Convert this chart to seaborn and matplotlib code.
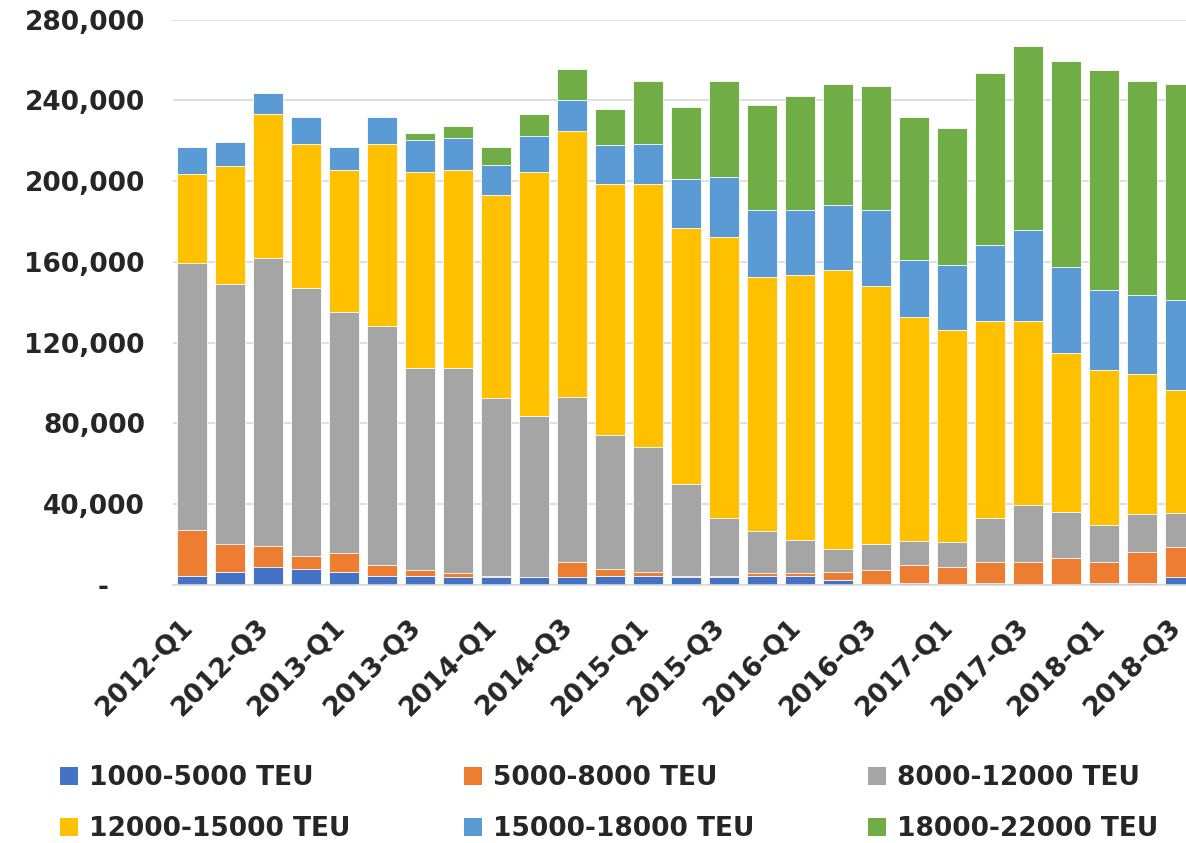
import matplotlib
matplotlib.use("Agg")
import matplotlib.pyplot as plt
import matplotlib.transforms as mtransforms
from matplotlib.patches import Patch
from matplotlib.ticker import FuncFormatter, MultipleLocator
import seaborn as sns
import numpy as np

quarters = [
    "2012-Q1", "2012-Q2", "2012-Q3", "2012-Q4",
    "2013-Q1", "2013-Q2", "2013-Q3", "2013-Q4",
    "2014-Q1", "2014-Q2", "2014-Q3", "2014-Q4",
    "2015-Q1", "2015-Q2", "2015-Q3", "2015-Q4",
    "2016-Q1", "2016-Q2", "2016-Q3", "2016-Q4",
    "2017-Q1", "2017-Q2", "2017-Q3", "2017-Q4",
    "2018-Q1", "2018-Q2", "2018-Q3",
]

# TEU by ship size class (thousands)
teu_1000_5000 = [4.7, 6.2, 9.1, 8.0, 6.2, 4.7, 4.7, 3.8, 3.8, 3.8, 3.8, 4.7, 4.7, 3.8,
                 3.8, 4.7, 4.7, 2.3, 0.5, 1.0, 0.3, 1.0, 0.3, 0.3, 1.0, 1.0, 3.8]
teu_5000_8000 = [22.4, 14.2, 10.2, 6.2, 9.7, 5.1, 2.5, 1.9, 0.9, 0.4, 7.6, 3.4, 1.5, 0.9,
                 0.9, 1.0, 1.0, 3.9, 6.7, 8.8, 8.8, 10.5, 11.2, 13.0, 10.5, 15.1, 14.8]
teu_8000_12000 = [132.3, 128.6, 142.6, 132.9, 119.1, 118.4, 100.1, 101.6, 87.7, 79.7, 81.9,
                  66.1, 61.9, 45.1, 28.6, 20.8, 16.4, 11.4, 13.1, 12.2, 12.1, 21.8, 27.9,
                  22.7, 18.2, 18.9, 17.2]
teu_12000_15000 = [44.3, 58.3, 71.3, 71.4, 70.6, 90.3, 97.3, 98.3, 100.9, 120.7, 131.4,
                   124.4, 130.5, 127.0, 139.2, 125.9, 131.2, 138.4, 127.9, 110.5, 105.3,
                   97.3, 91.2, 78.9, 76.7, 69.7, 60.9]
teu_15000_18000 = [13.2, 12.1, 10.6, 13.0, 11.1, 13.0, 15.7, 15.5, 14.7, 17.5, 15.3, 19.1,
                   20.0, 24.4, 29.3, 33.1, 32.2, 32.2, 37.3, 28.4, 31.9, 37.5, 45.4, 42.8,
                   39.9, 39.0, 44.3]
teu_18000_22000 = [0, 0, 0, 0, 0, 0, 3.3, 6.1, 8.9, 11.1, 15.7, 18.2, 31.1, 35.6, 47.9,
                   52.1, 56.4, 59.8, 61.5, 70.6, 67.8, 85.2, 91.1, 101.6, 108.7, 106.0, 107.0]

series_names = ["1000-5000 TEU", "5000-8000 TEU", "8000-12000 TEU",
                "12000-15000 TEU", "15000-18000 TEU", "18000-22000 TEU"]
series_values = [teu_1000_5000, teu_5000_8000, teu_8000_12000,
                 teu_12000_15000, teu_15000_18000, teu_18000_22000]
colors = ["#4472C4", "#ED7D31", "#A5A5A5", "#FFC000", "#5B9BD5", "#70AD47"]

sns.set_style("white")
plt.rcParams["font.family"] = ["DejaVu Sans"]
plt.rcParams["font.weight"] = "bold"
fs = 19

fig = plt.figure(figsize=(11.86, 8.43), dpi=100)
W, H = 1186, 843
ax = fig.add_axes([172.7 / W, (H - 585) / H, (1199 - 172.7) / W, (585 - 19.5) / H])

# cumulative tops, drawn tallest first so each layer covers the one above it
tops = np.cumsum(np.array(series_values) * 1000, axis=0)
for i in reversed(range(len(series_names))):
    sns.barplot(x=quarters, y=tops[i], order=quarters, color=colors[i], saturation=1,
                width=0.78, edgecolor="white", linewidth=0.6, errorbar=None, ax=ax)

ax.set_ylim(0, 280000)
ax.set_xlim(-0.5, len(quarters) - 0.5)
ax.yaxis.set_major_locator(MultipleLocator(40000))
ax.yaxis.set_major_formatter(FuncFormatter(lambda v, p: f"{int(v):,}" if v else "-    "))
ax.yaxis.grid(True, color="#D9D9D9", lw=1.2)
ax.set_axisbelow(True)
ax.tick_params(axis="y", length=0, pad=20, labelsize=fs)

ax.set_xticks(range(0, len(quarters), 2))
ax.set_xticklabels(quarters[::2], rotation=45, ha="right", va="center",
                   rotation_mode="anchor", fontsize=fs)
ax.set_xticks(np.arange(-0.5, len(quarters), 1), minor=True)
ax.tick_params(axis="x", which="major", length=0, pad=27)
ax.tick_params(axis="x", which="minor", length=8, color="#D9D9D9", width=1.2)
shift = mtransforms.ScaledTranslation(-3 / 100, 0, fig.dpi_scale_trans)
for lab in ax.get_xticklabels():
    lab.set_transform(lab.get_transform() + shift)
ax.set_xlabel("")
ax.set_ylabel("")

for s in ["left", "right", "top"]:
    ax.spines[s].set_visible(False)
ax.spines["bottom"].set_color("#D9D9D9")
ax.spines["bottom"].set_linewidth(1.2)

handles = [Patch(facecolor=c, edgecolor="none") for c in colors]
order = [0, 3, 1, 4, 2, 5]
fig.legend([handles[k] for k in order], [series_names[k] for k in order], ncol=3,
           loc="upper left", bbox_to_anchor=(60 / W, 1 - 765 / H), frameon=False,
           fontsize=fs, handlelength=0.7, handleheight=0.7, handletextpad=0.4,
           columnspacing=4.3, labelspacing=0.95, borderpad=0, borderaxespad=0)

fig.savefig("out.png", dpi=100)
